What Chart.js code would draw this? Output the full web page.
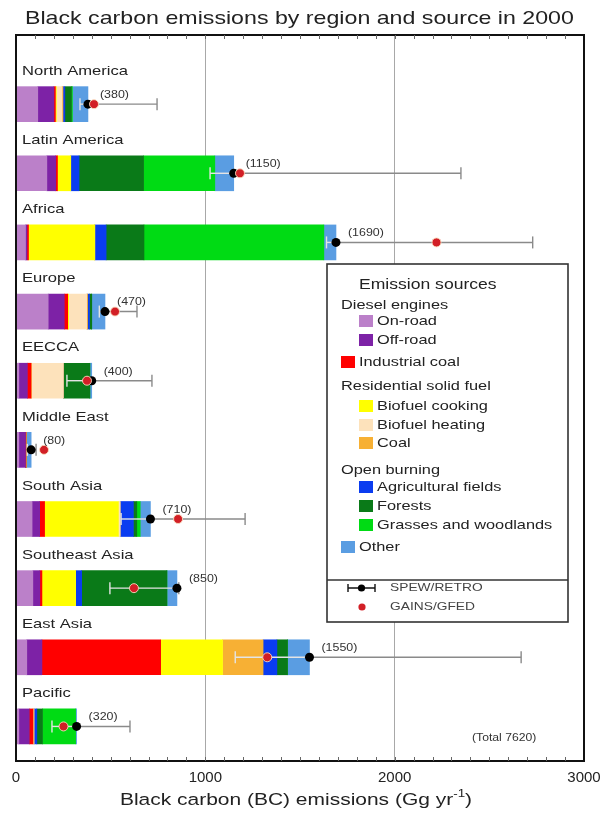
<!DOCTYPE html>
<html>
<head>
<meta charset="utf-8">
<script src="https://cdn.jsdelivr.net/npm/chart.js"></script>
<style>
  html, body { margin: 0; padding: 0; background: #fff; }
  #wrap { width: 603px; height: 813px; }
</style>
</head>
<body>
<div id="wrap"><canvas id="bc"></canvas></div>
<script>
// regions, top to bottom
const regions = ['North America', 'Latin America', 'Africa', 'Europe', 'EECCA',
  'Middle East', 'South Asia', 'Southeast Asia', 'East Asia', 'Pacific'];

// emissions by source, Gg/yr
const onRoad  = [115, 163,  50, 170,  15, 15,  85,  89,  57,  15];
const offRoad = [ 85,  47,   8,  85,  45, 35,  40,  37,  80,  55];
const indCoal = [  8,   9,   8,  18,  20,  3,  26,  11, 627,  20];
const bioCook = [  5,  70, 350,   5,   0,  0, 390, 178, 327,   0];
const bioHeat = [ 30,   0,   0,  95, 170,  0,   9,   0,   0,   5];
const resCoal = [  5,   0,   0,   5,   0,  0,   0,   0, 214,   0];
const agri    = [ 10,  44,  60,  10,   0,  0,  70,  32,  73,  15];
const forests = [ 35, 341, 200,  12, 140,  0,  18, 450,  56,  30];
const grasses = [  5, 376, 950,   0,   0,  0,  18,   0,   0, 175];
const other   = [ 82, 100,  64,  70,  10, 27,  54,  53, 116,   5];

// SPEW/RETRO estimate with its range, GAINS/GFED estimate
const spew     = [380, 1150, 1690, 470, 400,  80, 710, 850, 1550, 320];
const spewLow  = [338, 1025, 1640, 440, 269,  60, 555, 496, 1158, 190];
const spewHigh = [745, 2350, 2729, 639, 718, 106, 1210, 860, 2668, 602];
const gains    = [412, 1183, 2221, 523, 375, 148, 856, 623, 1327, 251];
const totalAll = 7620;

const xTicks = [0, 1000, 2000, 3000];

const series = [
  { name: 'On-road',               data: onRoad,  color: '#bb80c9' },
  { name: 'Off-road',              data: offRoad, color: '#7d22a6' },
  { name: 'Industrial coal',       data: indCoal, color: '#ff0000' },
  { name: 'Biofuel cooking',       data: bioCook, color: '#ffff00' },
  { name: 'Biofuel heating',       data: bioHeat, color: '#fde2bb' },
  { name: 'Coal',                  data: resCoal, color: '#f7b034' },
  { name: 'Agricultural fields',   data: agri,    color: '#0a3cf0' },
  { name: 'Forests',               data: forests, color: '#0a7a18' },
  { name: 'Grasses and woodlands', data: grasses, color: '#00db14' },
  { name: 'Other',                 data: other,   color: '#5a9de2' }
];

const FONT = '"Liberation Sans", Arial, sans-serif';
const SX = 1.22; // the original lettering is a bit wide

function txt(ctx, s, x, y, size, color, align) {
  ctx.save();
  ctx.font = size + 'px ' + FONT;
  ctx.fillStyle = color || '#222';
  ctx.textBaseline = 'middle';
  const w = ctx.measureText(s).width;
  ctx.translate(x, y);
  ctx.scale(SX, 1);
  let dx = 0;
  if (align === 'center') dx = -w / 2;
  if (align === 'right') dx = -w;
  ctx.fillText(s, dx, 0);
  ctx.restore();
  return w * SX;
}
function txtWidth(ctx, s, size) {
  ctx.save();
  ctx.font = size + 'px ' + FONT;
  const w = ctx.measureText(s).width * SX;
  ctx.restore();
  return w;
}

const totals = regions.map((r, i) => series.reduce((s, d) => s + d.data[i], 0));

const datasets = series.map(s => ({
  type: 'bar',
  label: s.name,
  indexAxis: 'y',
  data: s.data.map((v, i) => ({ x: v, y: i })),
  backgroundColor: s.color,
  borderWidth: 0,
  barThickness: 35,
  grouped: false,
  order: 3
}));
datasets.push({
  type: 'scatter',
  label: 'SPEW/RETRO',
  data: spew.map((v, i) => ({ x: v, y: i })),
  pointRadius: 4.5,
  pointBackgroundColor: '#000',
  pointBorderWidth: 0,
  order: 2
});
datasets.push({
  type: 'scatter',
  label: 'GAINS/GFED',
  data: gains.map((v, i) => ({ x: v, y: i })),
  pointRadius: 4.5,
  pointBackgroundColor: '#d21f26',
  pointBorderColor: 'rgba(250,220,190,0.9)',
  pointBorderWidth: 1,
  order: 1
});
const blackIndex = series.length;

const decor = {
  id: 'decor',
  beforeDraw(chart) {
    const ctx = chart.ctx;
    ctx.save();
    ctx.fillStyle = '#fff';
    ctx.fillRect(0, 0, chart.width, chart.height);
    ctx.restore();
  },
  beforeDatasetDraw(chart, args) {
    if (args.index !== blackIndex) return;
    // error bars for SPEW/RETRO
    const ctx = chart.ctx, xs = chart.scales.x, ys = chart.scales.y;
    ctx.save();
    ctx.lineWidth = 1.4;
    for (let i = 0; i < regions.length; i++) {
      const y = ys.getPixelForValue(i);
      const xl = xs.getPixelForValue(spewLow[i]);
      const xh = xs.getPixelForValue(spewHigh[i]);
      const xb = xs.getPixelForValue(totals[i]);
      if (xl < xb) {
        ctx.strokeStyle = '#e4e4e4';
        ctx.beginPath(); ctx.moveTo(xl, y); ctx.lineTo(Math.min(xh, xb), y); ctx.stroke();
      }
      if (xh > xb) {
        ctx.strokeStyle = '#8a8a8a';
        ctx.beginPath(); ctx.moveTo(Math.max(xl, xb), y); ctx.lineTo(xh, y); ctx.stroke();
      }
      ctx.strokeStyle = xl < xb ? '#e4e4e4' : '#8a8a8a';
      ctx.beginPath(); ctx.moveTo(xl, y - 6); ctx.lineTo(xl, y + 6); ctx.stroke();
      ctx.strokeStyle = xh < xb ? '#e4e4e4' : '#8a8a8a';
      ctx.beginPath(); ctx.moveTo(xh, y - 6); ctx.lineTo(xh, y + 6); ctx.stroke();
    }
    ctx.restore();
  },
  afterDraw(chart) {
    const ctx = chart.ctx, xs = chart.scales.x, ys = chart.scales.y;
    const a = chart.chartArea;

    // frame with small ticks every 100
    ctx.save();
    ctx.strokeStyle = '#111';
    ctx.lineWidth = 2;
    ctx.strokeRect(a.left, a.top, a.right - a.left, a.bottom - a.top);
    ctx.strokeStyle = '#666';
    ctx.lineWidth = 1;
    for (let v = 100; v < 3000; v += 100) {
      const x = Math.round(xs.getPixelForValue(v)) + 0.5;
      ctx.beginPath();
      ctx.moveTo(x, a.top); ctx.lineTo(x, a.top + 4);
      ctx.moveTo(x, a.bottom); ctx.lineTo(x, a.bottom - 4);
      ctx.stroke();
    }
    ctx.restore();

    // region names and totals
    for (let i = 0; i < regions.length; i++) {
      const y = ys.getPixelForValue(i);
      txt(ctx, regions[i], 22, y - 33, 13.6, '#222');
      txt(ctx, '(' + spew[i] + ')', xs.getPixelForValue(spew[i]) + 12, y - 9, 10.2, '#333');
    }
    txt(ctx, '(Total ' + totalAll + ')', 472, 738, 10, '#333');

    // title
    txt(ctx, 'Black carbon emissions by region and source in 2000', 25, 19, 19, '#222');

    // x axis title with superscript
    const t1 = 'Black carbon (BC) emissions (Gg yr', t2 = '-1', t3 = ')';
    const w = txtWidth(ctx, t1, 17.2) + txtWidth(ctx, t2, 11) + txtWidth(ctx, t3, 17.2);
    let x0 = 296 - w / 2;
    x0 += txt(ctx, t1, x0, 800, 17.2, '#222');
    x0 += txt(ctx, t2, x0, 794, 11, '#222');
    txt(ctx, t3, x0, 800, 17.2, '#222');

    // legend box
    ctx.save();
    ctx.fillStyle = '#fff';
    ctx.fillRect(327, 264, 241, 358);
    ctx.strokeStyle = '#333';
    ctx.lineWidth = 1.6;
    ctx.strokeRect(327, 264, 241, 358);
    ctx.beginPath(); ctx.moveTo(327, 580); ctx.lineTo(568, 580); ctx.stroke();
    ctx.restore();

    const heads = [
      ['Emission sources', 359, 285, 14.4],
      ['Diesel engines', 341, 305, 13.4],
      ['Residential solid fuel', 341, 386, 13.4],
      ['Open burning', 341, 470, 13.4]
    ];
    heads.forEach(h => txt(ctx, h[0], h[1], h[2], h[3], '#222'));
    // swatch positions per series: [x, y]
    const spots = [[359, 321], [359, 340], [341, 362], [359, 406], [359, 425],
      [359, 443], [359, 487], [359, 506], [359, 525], [341, 547]];
    series.forEach((s, k) => {
      const [sx, sy] = spots[k];
      ctx.fillStyle = s.color;
      ctx.fillRect(sx, sy - 6, 14, 12);
      txt(ctx, s.name, sx + 18, sy, 13.4, '#222');
    });

    // estimate markers
    ctx.save();
    ctx.strokeStyle = '#111';
    ctx.lineWidth = 1.4;
    ctx.beginPath();
    ctx.moveTo(348, 588); ctx.lineTo(375, 588);
    ctx.moveTo(348, 584); ctx.lineTo(348, 592);
    ctx.moveTo(375, 584); ctx.lineTo(375, 592);
    ctx.stroke();
    ctx.fillStyle = '#000';
    ctx.beginPath(); ctx.arc(361.5, 588, 3.6, 0, Math.PI * 2); ctx.fill();
    ctx.fillStyle = '#d21f26';
    ctx.beginPath(); ctx.arc(362, 607, 3.6, 0, Math.PI * 2); ctx.fill();
    ctx.restore();
    txt(ctx, 'SPEW/RETRO', 390, 588, 11.3, '#444');
    txt(ctx, 'GAINS/GFED', 390, 607, 11.3, '#444');
  }
};

new Chart(document.getElementById('bc'), {
  type: 'bar',
  data: { datasets: datasets },
  options: {
    responsive: true,
    maintainAspectRatio: false,
    animation: false,
    layout: { padding: { left: 16, right: 19, top: 35, bottom: 18 } },
    plugins: {
      legend: { display: false },
      tooltip: { enabled: false },
      title: { display: false }
    },
    scales: {
      x: {
        type: 'linear',
        min: 0,
        max: 3000,
        offset: false,
        stacked: true,
        afterBuildTicks: axis => { axis.ticks = xTicks.map(v => ({ value: v })); },
        afterFit: axis => { axis.paddingRight = 0; axis.paddingLeft = 0; },
        ticks: {
          color: '#222',
          padding: 8,
          font: { family: FONT, size: 15 },
          callback: v => String(v)
        },
        grid: {
          offset: false,
          drawTicks: false,
          color: c => (c.tick && (c.tick.value === 1000 || c.tick.value === 2000)) ? '#a8a8a8' : 'rgba(0,0,0,0)',
          lineWidth: 1
        },
        border: { display: false }
      },
      y: {
        type: 'linear',
        min: -1,
        max: 9.5,
        offset: false,
        reverse: true,
        display: false,
        grid: { offset: false }
      }
    }
  },
  plugins: [decor]
});
</script>
</body>
</html>
